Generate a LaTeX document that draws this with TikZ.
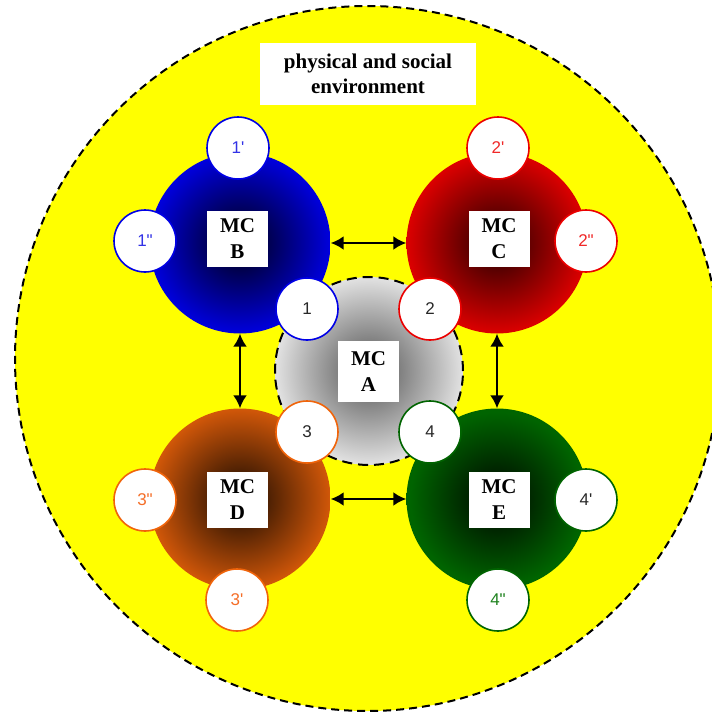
\documentclass[tikz,border=0pt]{standalone}
\usepackage{fontspec}
\setmainfont{Liberation Serif}
\setsansfont{Liberation Sans}
\usetikzlibrary{arrows.meta}
\definecolor{mblue}{RGB}{0,0,230}
\definecolor{mred}{RGB}{235,0,0}
\definecolor{morange}{RGB}{240,100,10}
\definecolor{mgreen}{RGB}{0,100,0}
\definecolor{tblue}{RGB}{50,50,230}
\definecolor{tred}{RGB}{240,40,40}
\definecolor{torange}{RGB}{245,110,40}
\definecolor{tgreen}{RGB}{30,130,30}
\definecolor{tdark}{RGB}{40,40,40}
\definecolor{envyellow}{RGB}{255,255,0}
\pgfdeclareradialshading{shblue}{\pgfpoint{0bp}{0bp}}{color(0bp)=(black!92!mblue); color(26bp)=(mblue); color(50bp)=(mblue)}
\pgfdeclareradialshading{shred}{\pgfpoint{0bp}{0bp}}{color(0bp)=(black!85!mred); color(27bp)=(mred); color(50bp)=(mred)}
\pgfdeclareradialshading{shorange}{\pgfpoint{0bp}{0bp}}{color(0bp)=(black!92!morange); color(29bp)=(morange); color(50bp)=(morange)}
\pgfdeclareradialshading{shgreen}{\pgfpoint{0bp}{0bp}}{color(0bp)=(black!95!mgreen); color(24bp)=(mgreen); color(50bp)=(mgreen)}
\pgfdeclareradialshading{shgray}{\pgfpoint{0bp}{0bp}}{color(0bp)=(black!68); color(30bp)=(white); color(36bp)=(black!6); color(50bp)=(black!6)}
\tikzset{
  envcircle/.style={circle, minimum size=705pt, inner sep=0pt, fill=envyellow, draw=black, line width=2pt, dash pattern=on 8pt off 5pt},
  titlebox/.style={fill=white, minimum width=216pt, minimum height=62pt, align=center, inner sep=0pt, font=\bfseries\fontsize{21}{25}\selectfont},
  blob/.style={circle, minimum size=181pt, inner sep=0pt, shade, shading=#1},
  centerblob/.style={circle, minimum size=188pt, inner sep=0pt, shade, shading=shgray, draw=black, line width=2pt, dash pattern=on 10pt off 6pt},
  mcbox/.style={fill=white, minimum width=61pt, minimum height=56pt, align=center, inner sep=0pt, font=\bfseries\fontsize{21}{26}\selectfont},
  small/.style={circle, draw=#1, line width=1.6pt, fill=white, minimum size=62pt, inner sep=0pt, font=\sffamily\fontsize{17}{17}\selectfont},
  biarrow/.style={line width=2.6pt, {Latex[length=13pt,width=14pt]}-{Latex[length=13pt,width=14pt]}},
}
\begin{document}
\begin{tikzpicture}[x=1pt,y=-1pt]
\useasboundingbox (0,0) rectangle (712,715);
\clip (0,0) rectangle (712,715);
\fill[white] (0,0) rectangle (712,715);
\node[envcircle] (env) at (367.5,358.5) {};
\node[titlebox] (title) at (368,74) {physical and social\\environment};
% blobs
\node[blob=shblue] (B) at (240,243) {};
\node[blob=shred] (C) at (497,243) {};
\node[blob=shorange] (D) at (240,499) {};
\node[blob=shgreen] (E) at (497,499) {};
\node[centerblob] (A) at (369,371) {};
% arrows
\draw[biarrow] (B) -- (C);
\draw[biarrow] (D) -- (E);
\draw[biarrow] (B) -- (D);
\draw[biarrow] (C) -- (E);
% labels
\node[mcbox, minimum height=61pt] (Alab) at (368.5,371.5) {MC\\A};
\node[mcbox] (Blab) at (237.5,239) {MC\\B};
\node[mcbox] (Clab) at (499,239) {MC\\C};
\node[mcbox] (Dlab) at (237.5,500) {MC\\D};
\node[mcbox] (Elab) at (499,500) {MC\\E};
% small circles
\node[small=mblue, text=tblue] (b1) at (238,148) {1\textquotesingle};
\node[small=mblue, text=tblue] (b2) at (145,241) {1\textquotedbl};
\node[small=mblue, text=tdark] (n1) at (307,309) {1};
\node[small=mred, text=tred] (c1) at (498,148) {2\textquotesingle};
\node[small=mred, text=tred] (c2) at (586,241) {2\textquotedbl};
\node[small=mred, text=tdark] (n2) at (430,309) {2};
\node[small=morange, text=tdark] (n3) at (307,432) {3};
\node[small=morange, text=torange] (d2) at (145,500) {3\textquotedbl};
\node[small=morange, text=torange] (d1) at (237,600) {3\textquotesingle};
\node[small=mgreen, text=tdark] (n4) at (430,432) {4};
\node[small=mgreen, text=tdark] (e1) at (586,500) {4\textquotesingle};
\node[small=mgreen, text=tgreen] (e2) at (498,600) {4\textquotedbl};
\end{tikzpicture}
\end{document}
